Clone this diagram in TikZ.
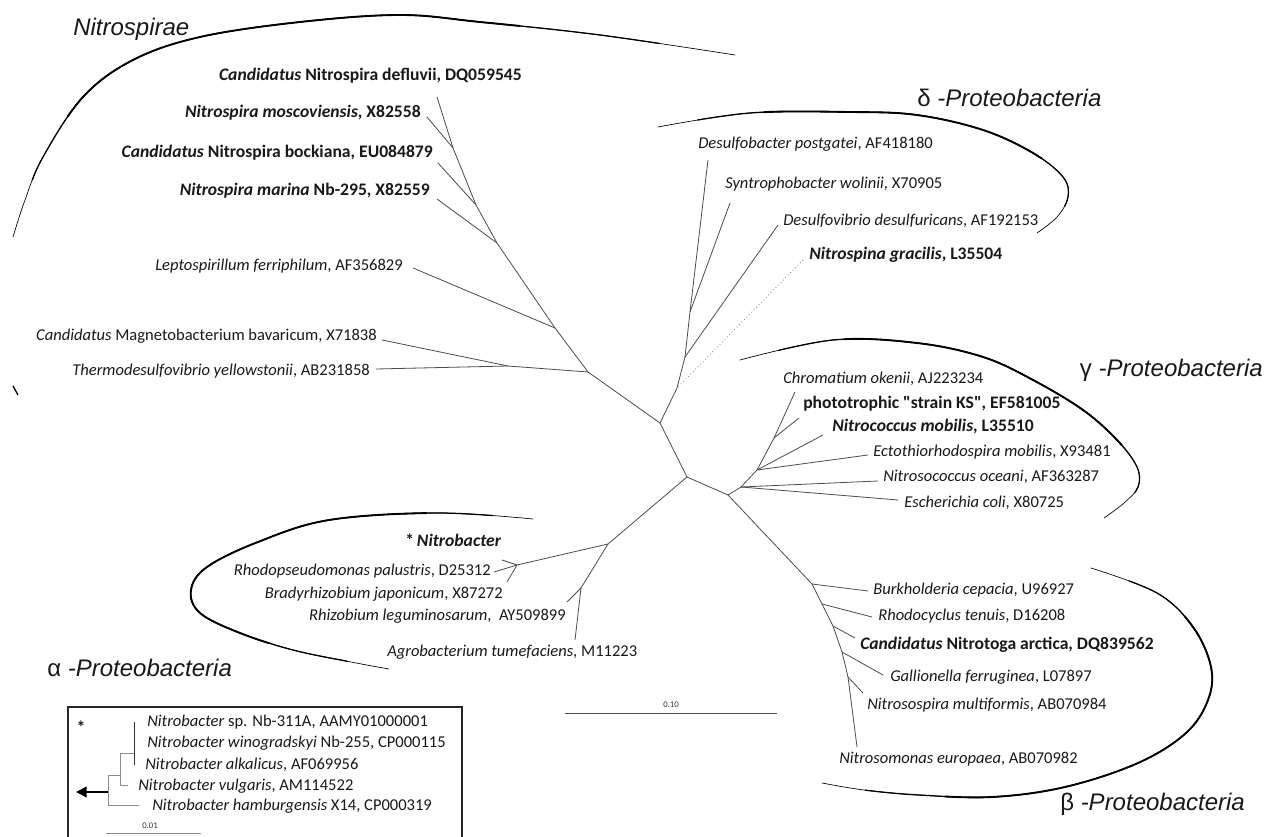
\documentclass[tikz,border=0pt]{standalone}
\usepackage{fontspec}
\setmainfont{Carlito}
\newfontfamily\grpfont{Liberation Sans}
\usetikzlibrary{arrows.meta}
\begin{document}
\begin{tikzpicture}[x=0.75pt,y=-0.75pt,
  lab/.style={inner sep=0pt, font=\fontsize{12.4}{14}\selectfont, text=black!90},
  labr/.style={lab, anchor=mid west},
  labl/.style={lab, anchor=mid east},
  bold/.style={font=\fontsize{13.2}{15}\selectfont\bfseries},
  grp/.style={inner sep=0pt, anchor=mid west, font=\grpfont\fontsize{18}{20}\selectfont\itshape, text=black!90},
  br/.style={draw=black!70, line width=0.6pt},
  dotbr/.style={draw=black!50, line width=0.6pt, dotted},
  cladeA/.style={draw=black, line width=0.5pt, line cap=round},
  cladeB/.style={draw=black, line width=0.95pt, line cap=butt},
  cladeC/.style={draw=black, line width=1.4pt, line cap=butt},
  ibr/.style={draw=black!45, line width=0.7pt},
  small/.style={inner sep=0pt, font=\fontsize{6.5}{7}\selectfont, text=black!80},
]
\useasboundingbox (0,0) rectangle (1270,837);
\fill[white] (0,0) rectangle (1270,837);

% ---------- group labels ----------
\node[grp] (gNitro) at (73,32) {Nitrospirae};
\node[grp] (gDelta) at (917,103) {{\upshape δ} -Proteobacteria};
\node[grp, anchor=mid east] (gGamma) at (1263,373) {{\upshape γ} -Proteobacteria};
\node[grp] (gBeta) at (1060,807) {{\upshape β} -Proteobacteria};
\node[grp] (gAlpha) at (47,673) {{\upshape α} -Proteobacteria};

% ---------- clade arcs (tapered: same path, dashed sub-ranges drawn thicker) ----------
\def\arcNitro{(13,237) (25,200) (43,157) (83,97) (133,60) (200,37) (300,22) (400,15) (480,22) (600,35) (735,55)}
\def\arcDelta{(658,127) (750,113) (850,112) (917,115) (983,130) (1033,153) (1063,177) (1068,197) (1057,217) (1037,233)}
\def\arcGamma{(740,360) (833,340) (917,343) (983,357) (1033,380) (1083,410) (1117,440) (1137,467) (1138,487) (1124,503) (1104,518)}
\def\arcBeta{(1091,568) (1157,593) (1193,627) (1211,667) (1208,700) (1186,733) (1138,763) (1065,787) (992,797) (919,795) (864,790) (822,783)}
\def\arcAlpha{(533,519) (437,513) (329,520) (258,542) (207,567) (191,590) (200,613) (240,633) (293,650) (351,662) (389,669)}

\draw[cladeA] plot[smooth,tension=0.6] coordinates {\arcNitro};
\draw[cladeB, dash pattern=on 0pt off 45pt on 520pt off 3000pt] plot[smooth,tension=0.6] coordinates {\arcNitro};
\draw[cladeC, dash pattern=on 0pt off 100pt on 360pt off 3000pt] plot[smooth,tension=0.6] coordinates {\arcNitro};
\draw[cladeB] (13,386) -- (18,395);

\draw[cladeA] plot[smooth,tension=0.6] coordinates {\arcDelta};
\draw[cladeB, dash pattern=on 0pt off 30pt on 310pt off 3000pt] plot[smooth,tension=0.6] coordinates {\arcDelta};
\draw[cladeC, dash pattern=on 0pt off 80pt on 215pt off 3000pt] plot[smooth,tension=0.6] coordinates {\arcDelta};

\draw[cladeA] plot[smooth,tension=0.6] coordinates {\arcGamma};
\draw[cladeB, dash pattern=on 0pt off 30pt on 320pt off 3000pt] plot[smooth,tension=0.6] coordinates {\arcGamma};
\draw[cladeC, dash pattern=on 0pt off 80pt on 230pt off 3000pt] plot[smooth,tension=0.6] coordinates {\arcGamma};

\draw[cladeA] plot[smooth,tension=0.6] coordinates {\arcBeta};
\draw[cladeB, dash pattern=on 0pt off 30pt on 400pt off 3000pt] plot[smooth,tension=0.6] coordinates {\arcBeta};
\draw[cladeC, dash pattern=on 0pt off 80pt on 290pt off 3000pt] plot[smooth,tension=0.6] coordinates {\arcBeta};

\draw[cladeA] plot[smooth,tension=0.6] coordinates {\arcAlpha};
\draw[cladeB, dash pattern=on 0pt off 30pt on 380pt off 3000pt] plot[smooth,tension=0.6] coordinates {\arcAlpha};
\draw[cladeC, dash pattern=on 0pt off 80pt on 270pt off 3000pt] plot[smooth,tension=0.6] coordinates {\arcAlpha};

% ---------- labels: Nitrospirae ----------
\node[labl, bold] (defl) at (522,77) {\textit{Candidatus} Nitrospira defluvii, DQ059545};
\node[labl, bold] (mosc) at (421,114) {\textit{Nitrospira moscoviensis}, X82558};
\node[labl, bold] (bock) at (433,154) {\textit{Candidatus} Nitrospira bockiana, EU084879};
\node[labl, bold] (mari) at (430,192) {\textit{Nitrospira marina} Nb-295, X82559};
\node[labl] (lept) at (403,267) {\textit{Leptospirillum ferriphilum}, AF356829};
\node[labl] (magn) at (377,337) {\textit{Candidatus} Magnetobacterium bavaricum, X71838};
\node[labl] (ther) at (370,372) {\textit{Thermodesulfovibrio yellowstonii}, AB231858};

% ---------- labels: delta ----------
\node[labr] (dsba) at (698,145) {\textit{Desulfobacter postgatei}, AF418180};
\node[labr] (synt) at (725,185) {\textit{Syntrophobacter wolinii}, X70905};
\node[labr] (dsvi) at (783,222) {\textit{Desulfovibrio desulfuricans}, AF192153};
\node[labr, bold] (nspi) at (809,256) {\textit{Nitrospina gracilis}, L35504};

% ---------- labels: gamma ----------
\node[labr] (chro) at (783,380) {\textit{Chromatium okenii}, AJ223234};
\node[labr, bold] (phot) at (803,405) {phototrophic \textquotedbl strain KS\textquotedbl, EF581005};
\node[labr, bold] (ncoc) at (832,428) {\textit{Nitrococcus mobilis}, L35510};
\node[labr] (ecto) at (873,453) {\textit{Ectothiorhodospira mobilis}, X93481};
\node[labr] (nsoc) at (883,478) {\textit{Nitrosococcus oceani}, AF363287};
\node[labr] (esch) at (904,504) {\textit{Escherichia coli}, X80725};

% ---------- labels: beta ----------
\node[labr] (burk) at (873,591) {\textit{Burkholderia cepacia}, U96927};
\node[labr] (rhoc) at (878,617) {\textit{Rhodocyclus tenuis}, D16208};
\node[labr, bold] (ntog) at (860,646) {\textit{Candidatus} Nitrotoga arctica, DQ839562};
\node[labr] (gall) at (890,678) {\textit{Gallionella ferruginea}, L07897};
\node[labr] (nssp) at (867,706) {\textit{Nitrosospira multiformis}, AB070984};
\node[labr] (nsmo) at (839,760) {\textit{Nitrosomonas europaea}, AB070982};

% ---------- labels: alpha ----------
\node[labr, bold] (nbac) at (405,543) {*\,\textit{Nitrobacter}};
\node[labl] (rhps) at (491,572) {\textit{Rhodopseudomonas palustris}, D25312};
\node[labl] (brad) at (503,595) {\textit{Bradyrhizobium japonicum}, X87272};
\node[labl] (rhiz) at (566,617) {\textit{Rhizobium leguminosarum},\ \ AY509899};
\node[labr] (agro) at (387,653) {\textit{Agrobacterium tumefaciens}, M11223};

% ---------- tree coordinates ----------
\coordinate (C) at (687,477);
\coordinate (A) at (660,423);
\coordinate (GB) at (728,495);
% Nitrospirae
\coordinate (edef) at (437,97);
\coordinate (emos) at (427,117);
\coordinate (ebock) at (438,163);
\coordinate (emar) at (437,199);
\coordinate (elep) at (413,268);
\coordinate (emag) at (382,340);
\coordinate (ethe) at (376,369);
\coordinate (nmos) at (453,148);
\coordinate (nbock) at (476,205);
\coordinate (nmar) at (497,243);
\coordinate (nlep) at (555,328);
\coordinate (nmt) at (508,366);
\coordinate (nnit) at (588,372);
% delta
\coordinate (edba) at (708,160);
\coordinate (esyn) at (730,203);
\coordinate (edvi) at (778,225);
\coordinate (ensp) at (803,260);
\coordinate (d1) at (690,312);
\coordinate (d2) at (685,357);
\coordinate (d3) at (677,388);
% gamma
\coordinate (echr) at (795,392);
\coordinate (epho) at (799,418);
\coordinate (enco) at (823,435);
\coordinate (eect) at (868,455);
\coordinate (enso) at (878,481);
\coordinate (eesc) at (898,500);
\coordinate (g1) at (774,438);
\coordinate (g2) at (757,470);
\coordinate (g3) at (741,487);
% beta
\coordinate (ebur) at (868,591);
\coordinate (erho) at (872,617);
\coordinate (ento) at (855,638);
\coordinate (egal) at (883,675);
\coordinate (enss) at (863,693);
\coordinate (ensm) at (857,747);
\coordinate (b1) at (812,584);
\coordinate (b2) at (822,604);
\coordinate (b3) at (833,626);
\coordinate (b4) at (842,652);
\coordinate (b5) at (848,677);
% alpha
\coordinate (enb) at (502,560);
\coordinate (erps) at (494,572);
\coordinate (ebra) at (507,582);
\coordinate (erhz) at (567,602);
\coordinate (eagr) at (575,640);
\coordinate (nb) at (517,565);
\coordinate (al2) at (581,588);
\coordinate (al1) at (608,544);

% ---------- branches ----------
\draw[br] (A) -- (C) -- (GB);
\draw[br] (C) -- (al1);
\draw[br] (edef) -- (nmos) -- (nbock) -- (nmar) -- (nlep) -- (nnit) -- (A);
\draw[br] (emos) -- (nmos);
\draw[br] (ebock) -- (nbock);
\draw[br] (emar) -- (nmar);
\draw[br] (elep) -- (nlep);
\draw[br] (emag) -- (nmt) -- (nnit);
\draw[br] (ethe) -- (nmt);
\draw[br] (edba) -- (d1) -- (d2) -- (d3) -- (A);
\draw[br] (esyn) -- (d1);
\draw[br] (edvi) -- (d2);
\draw[dotbr] (ensp) -- (d3);
\draw[br] (echr) -- (g1) -- (g2) -- (g3) -- (GB);
\draw[br] (epho) -- (g1);
\draw[br] (enco) -- (g2);
\draw[br] (eect) -- (g2);
\draw[br] (enso) -- (g3);
\draw[br] (eesc) -- (g3);
\draw[br] (GB) -- (b1) -- (b2) -- (b3) -- (b4) -- (b5) -- (ensm);
\draw[br] (ebur) -- (b1);
\draw[br] (erho) -- (b2);
\draw[br] (ento) -- (b3);
\draw[br] (egal) -- (b4);
\draw[br] (enss) -- (b5);
\draw[br] (al1) -- (nb);
\draw[br] (enb) -- (nb);
\draw[br] (erps) -- (nb);
\draw[br] (ebra) -- (nb);
\draw[br] (al1) -- (al2);
\draw[br] (erhz) -- (al2);
\draw[br] (eagr) -- (al2);

% ---------- scale bar ----------
\coordinate (sb1) at (565,713);
\coordinate (sb2) at (777,713);
\draw[br] (sb1) -- (sb2);
\node[small] (sblab) at (671,705) {0.10};

% ---------- inset ----------
\draw[black!85, line width=0.9pt] (68,840) -- (68,707) -- (462,707) -- (462,840);
\node[lab, bold] (istar) at (81,727) {*};
\node[labr] (i1) at (147,723) {\textit{Nitrobacter} sp. Nb-311A, AAMY01000001};
\node[labr] (i2) at (147,744) {\textit{Nitrobacter winogradskyi} Nb-255, CP000115};
\node[labr] (i3) at (145,766) {\textit{Nitrobacter alkalicus}, AF069956};
\node[labr] (i4) at (138,787) {\textit{Nitrobacter vulgaris}, AM114522};
\node[labr] (i5) at (152,807) {\textit{Nitrobacter hamburgensis} X14, CP000319};
\coordinate (r0) at (108,775);
\coordinate (r1) at (108,805);
\coordinate (r2) at (120,775);
\coordinate (r3) at (120,753);
\coordinate (r4) at (120,785);
\coordinate (r5) at (128,785);
\coordinate (r6) at (134,753);
\coordinate (r7) at (134,722);
\coordinate (r8) at (134,765);
\coordinate (r9) at (139,805);
\draw[ibr] (r2) -- (r0) -- (r1) -- (r9);
\draw[ibr] (r3) -- (r4) -- (r5);
\draw[ibr] (r3) -- (r6);
\draw[black!80, line width=0.7pt] (r7) -- (r8);
\coordinate (ar1) at (108,792);
\coordinate (ar2) at (76,792);
\draw[black, line width=1.4pt, -{Triangle[length=8pt,width=8pt]}] (ar1) -- (ar2);
\coordinate (is1) at (106,833);
\coordinate (is2) at (201,833);
\draw[ibr] (is1) -- (is2);
\node[small] (islab) at (150,826) {0.01};
\end{tikzpicture}
\end{document}
